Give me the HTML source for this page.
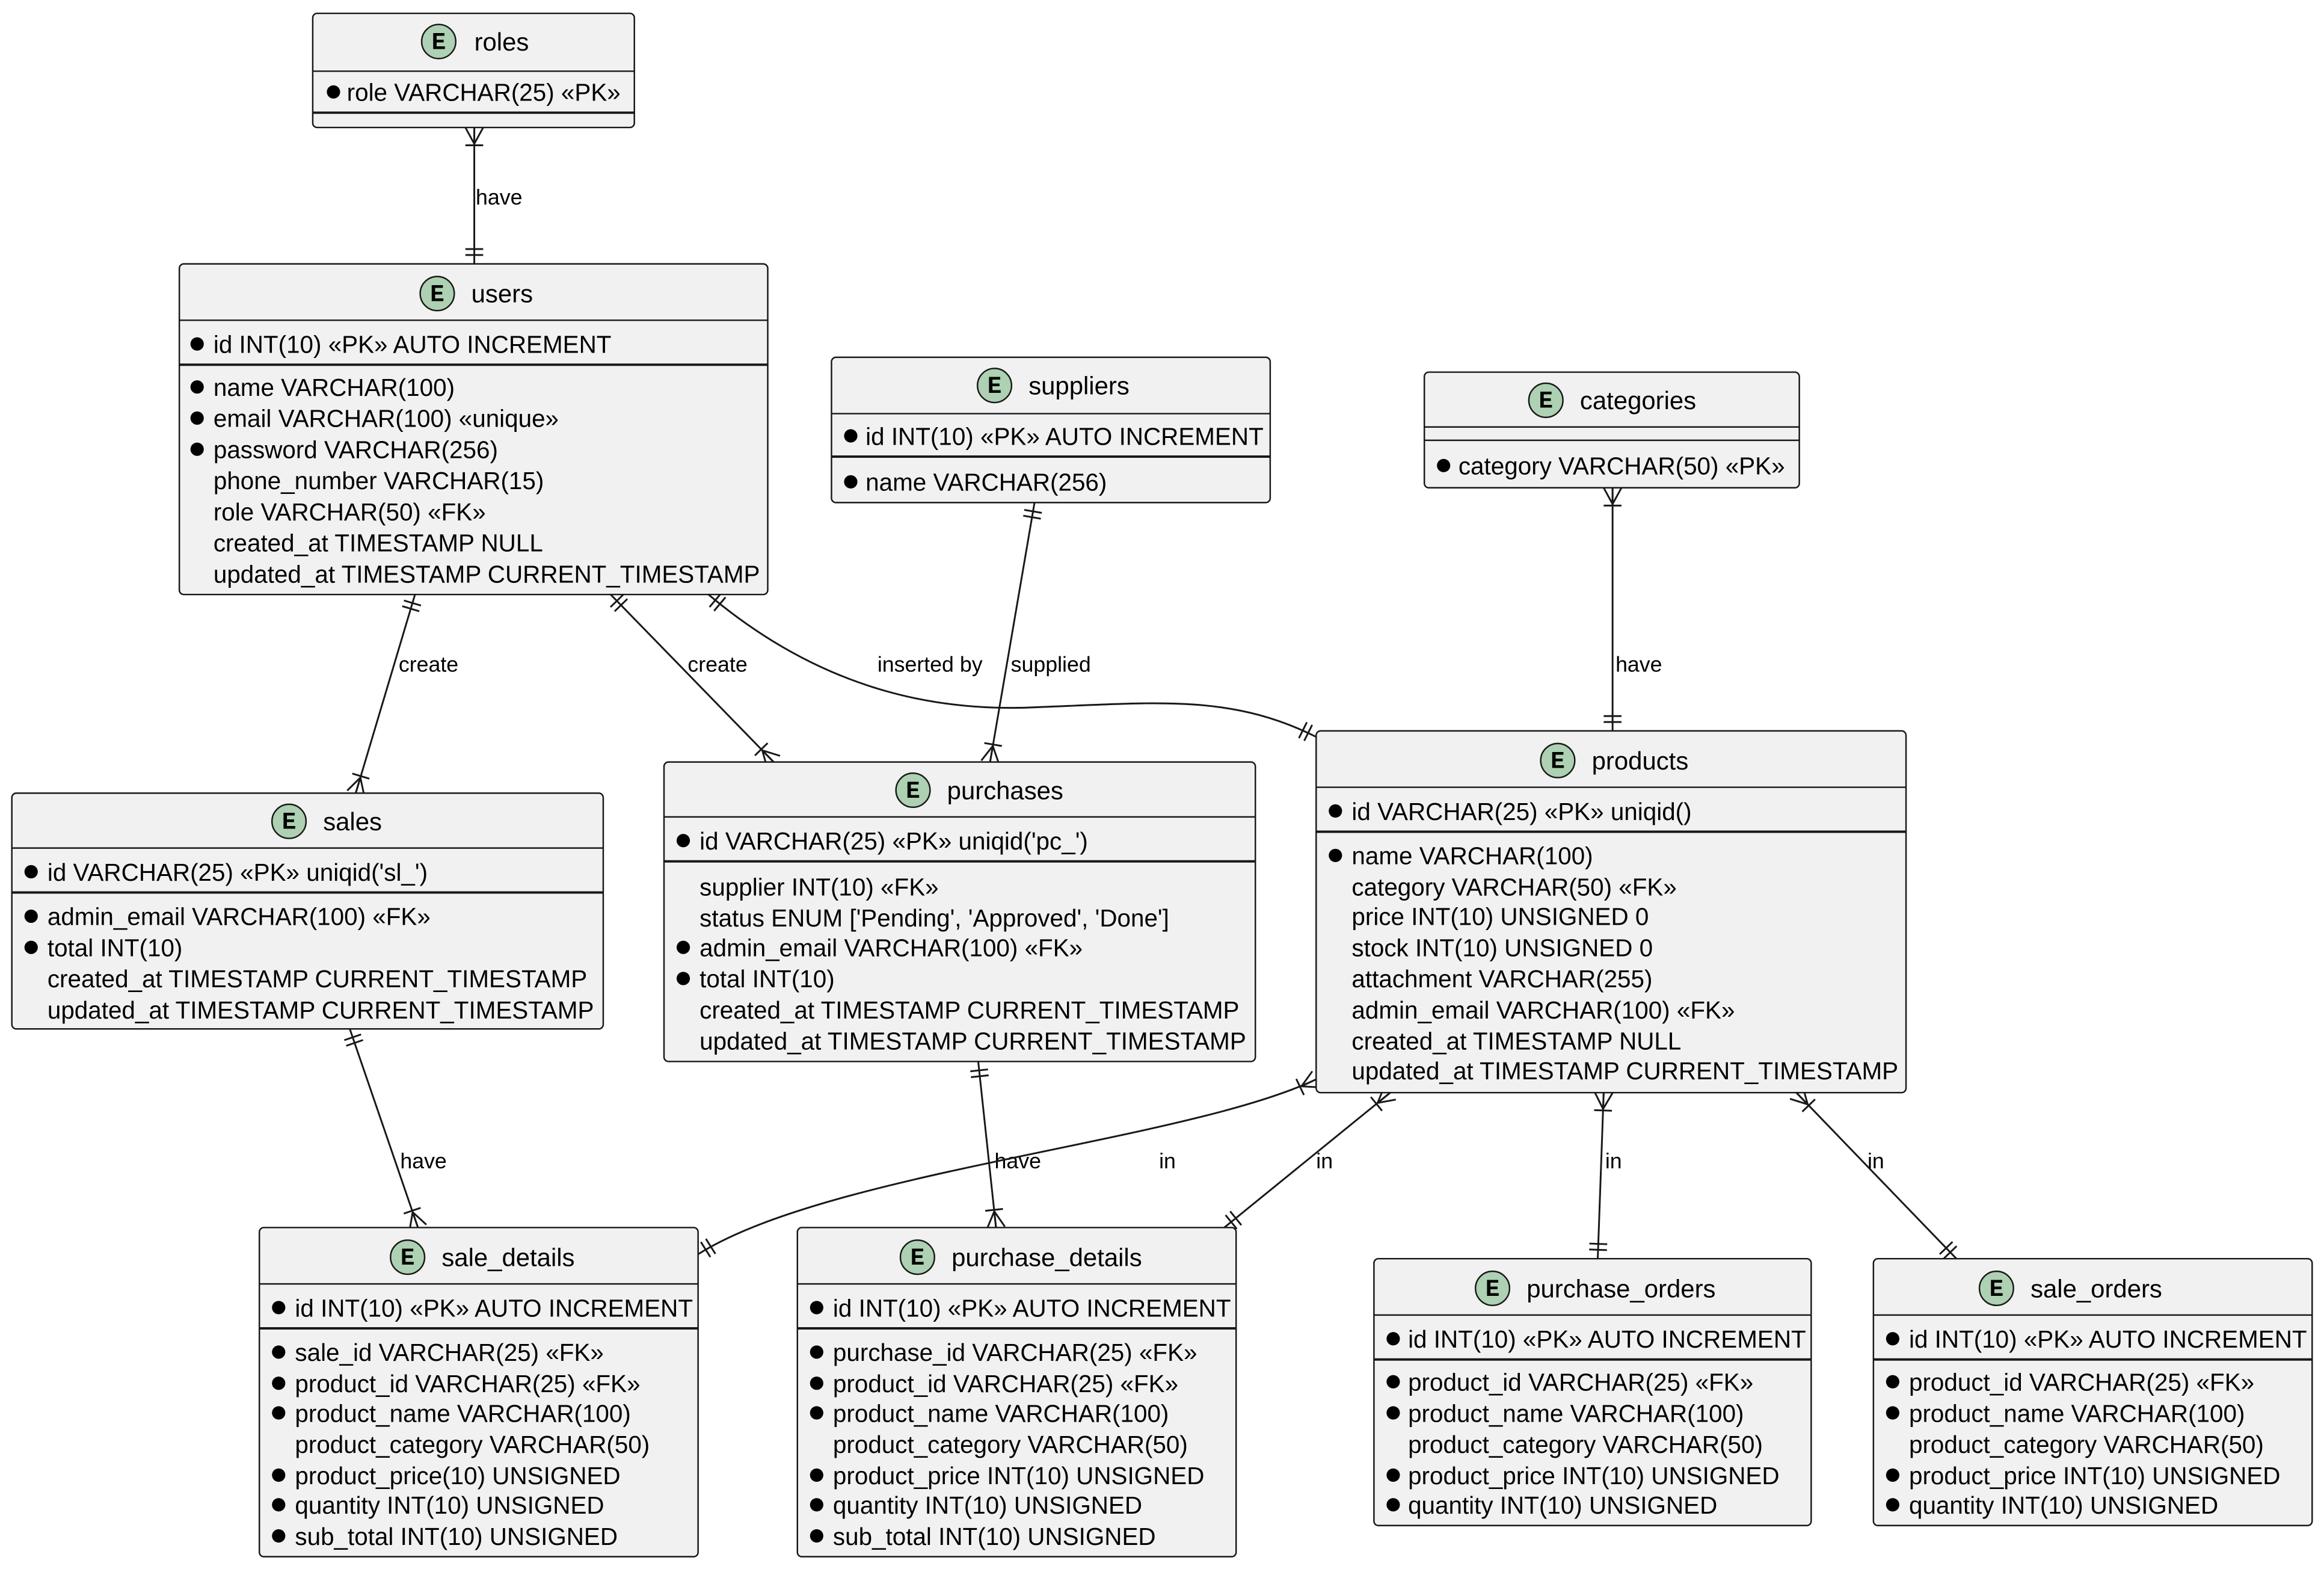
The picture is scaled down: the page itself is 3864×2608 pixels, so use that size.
<!DOCTYPE html>
<html><head><meta charset="utf-8"><style>
html,body{margin:0;padding:0;background:#fff}
svg{display:block}
text{font-family:"Liberation Sans",sans-serif;fill:#000}
.t{font-size:17px}
.r{font-size:16.4px}
.l{font-size:14.5px}
.E{font-family:"Liberation Mono",monospace;font-weight:bold;font-size:16px;text-anchor:middle}
rect{fill:#F1F1F1;stroke:#181818;stroke-width:1}
.c{fill:#ADD1B2;stroke:#181818;stroke-width:1}
.s{stroke:#181818;stroke-width:1}
.p{stroke:#181818;stroke-width:1.6}
.k{stroke:#181818;stroke-width:1.2;fill:none}
.b{fill:#000}
</style></head><body>
<svg width="3864" height="2608" viewBox="0 0 1568 1058.3" xmlns="http://www.w3.org/2000/svg">
<defs>
<marker id="many" markerUnits="userSpaceOnUse" markerWidth="26" markerHeight="18" refX="22" refY="9" orient="auto-start-reverse" viewBox="0 0 26 18">
<path d="M11,9 L22,3 M11,9 L22,9 M11,9 L22,15 M10,3 L10,15" stroke="#181818" stroke-width="1.2" fill="none"/>
</marker>
<marker id="one" markerUnits="userSpaceOnUse" markerWidth="26" markerHeight="18" refX="22" refY="9" orient="auto-start-reverse" viewBox="0 0 26 18">
<path d="M12,3 L12,15 M16,3 L16,15" stroke="#181818" stroke-width="1.2" fill="none"/>
</marker>
</defs>

<!-- connectors -->
<path class="k" d="M320,86 L320,178" marker-start="url(#many)" marker-end="url(#one)"/>
<text class="l" x="321" y="138">have</text>
<path class="k" d="M280,401 L240,535" marker-start="url(#one)" marker-end="url(#many)"/>
<text class="l" x="269" y="453">create</text>
<path class="k" d="M412,401 L522,514" marker-start="url(#one)" marker-end="url(#many)"/>
<text class="l" x="464" y="453">create</text>
<path class="k" d="M478,401 C560,470 640,480 700,477 C780,474 830,468 888,497" marker-start="url(#one)" marker-end="url(#one)"/>
<text class="l" x="592" y="453">inserted by</text>
<path class="k" d="M698,339 L668,514" marker-start="url(#one)" marker-end="url(#many)"/>
<text class="l" x="682" y="453">supplied</text>
<path class="k" d="M1088,329 L1088,493" marker-start="url(#many)" marker-end="url(#one)"/>
<text class="l" x="1090" y="453">have</text>
<path class="k" d="M236,694 L282,828" marker-start="url(#one)" marker-end="url(#many)"/>
<text class="l" x="270" y="788">have</text>
<path class="k" d="M660,716 L672,828" marker-start="url(#one)" marker-end="url(#many)"/>
<text class="l" x="671" y="788">have</text>
<path class="k" d="M888,728 C800,770 560,790 471,846" marker-start="url(#many)" marker-end="url(#one)"/>
<text class="l" x="782" y="788">in</text>
<path class="k" d="M938,737 L826,828" marker-start="url(#many)" marker-end="url(#one)"/>
<text class="l" x="888" y="788">in</text>
<path class="k" d="M1082,737 L1078,849" marker-start="url(#many)" marker-end="url(#one)"/>
<text class="l" x="1083" y="788">in</text>
<path class="k" d="M1212,737 L1320,849" marker-start="url(#many)" marker-end="url(#one)"/>
<text class="l" x="1260" y="788">in</text>

<!-- roles -->
<rect x="211" y="9" width="217" height="77" rx="3"/>
<circle class="c" cx="296" cy="28" r="11.5"/><text class="E" x="296" y="33">E</text>
<text class="t" x="320" y="34">roles</text>
<line class="s" x1="211" y1="48" x2="428" y2="48"/>
<circle class="b" cx="225" cy="62" r="4.5"/><text class="r" x="234" y="68">role VARCHAR(25) «PK»</text>
<line class="p" x1="211" y1="76" x2="428" y2="76"/>

<!-- users -->
<rect x="121" y="178" width="397" height="223" rx="3"/>
<circle class="c" cx="295" cy="198" r="11.5"/><text class="E" x="295" y="203">E</text>
<text class="t" x="318" y="204">users</text>
<line class="s" x1="121" y1="216" x2="518" y2="216"/>
<circle class="b" cx="133" cy="232" r="4.5"/><text class="r" x="144" y="238">id INT(10) «PK» AUTO INCREMENT</text>
<line class="p" x1="121" y1="246" x2="518" y2="246"/>
<circle class="b" cx="133" cy="261" r="4.5"/><text class="r" x="144" y="267">name VARCHAR(100)</text>
<circle class="b" cx="133" cy="282" r="4.5"/><text class="r" x="144" y="288">email VARCHAR(100) «unique»</text>
<circle class="b" cx="133" cy="303" r="4.5"/><text class="r" x="144" y="309">password VARCHAR(256)</text>
<text class="r" x="144" y="330">phone_number VARCHAR(15)</text>
<text class="r" x="144" y="351">role VARCHAR(50) «FK»</text>
<text class="r" x="144" y="372">created_at TIMESTAMP NULL</text>
<text class="r" x="144" y="393">updated_at TIMESTAMP CURRENT_TIMESTAMP</text>

<!-- suppliers -->
<rect x="561" y="241" width="296" height="98" rx="3"/>
<circle class="c" cx="671" cy="260" r="11.5"/><text class="E" x="671" y="265">E</text>
<text class="t" x="694" y="266">suppliers</text>
<line class="s" x1="561" y1="279" x2="857" y2="279"/>
<circle class="b" cx="574" cy="294" r="4.5"/><text class="r" x="584" y="300">id INT(10) «PK» AUTO INCREMENT</text>
<line class="p" x1="561" y1="308" x2="857" y2="308"/>
<circle class="b" cx="574" cy="325" r="4.5"/><text class="r" x="584" y="331">name VARCHAR(256)</text>

<!-- categories -->
<rect x="961" y="251" width="253" height="78" rx="3"/>
<circle class="c" cx="1043" cy="270" r="11.5"/><text class="E" x="1043" y="275">E</text>
<text class="t" x="1066" y="276">categories</text>
<line class="s" x1="961" y1="288" x2="1214" y2="288"/>
<line class="s" x1="961" y1="297" x2="1214" y2="297"/>
<circle class="b" cx="974" cy="314" r="4.5"/><text class="r" x="984" y="320">category VARCHAR(50) «PK»</text>

<!-- products -->
<rect x="888" y="493" width="398" height="244" rx="3"/>
<circle class="c" cx="1051" cy="513" r="11.5"/><text class="E" x="1051" y="518">E</text>
<text class="t" x="1074" y="519">products</text>
<line class="s" x1="888" y1="531" x2="1286" y2="531"/>
<circle class="b" cx="901" cy="547" r="4.5"/><text class="r" x="912" y="553">id VARCHAR(25) «PK» uniqid()</text>
<line class="p" x1="888" y1="561" x2="1286" y2="561"/>
<circle class="b" cx="901" cy="577" r="4.5"/><text class="r" x="912" y="583">name VARCHAR(100)</text>
<text class="r" x="912" y="604">category VARCHAR(50) «FK»</text>
<text class="r" x="912" y="624">price INT(10) UNSIGNED 0</text>
<text class="r" x="912" y="645">stock INT(10) UNSIGNED 0</text>
<text class="r" x="912" y="666">attachment VARCHAR(255)</text>
<text class="r" x="912" y="687">admin_email VARCHAR(100) «FK»</text>
<text class="r" x="912" y="708">created_at TIMESTAMP NULL</text>
<text class="r" x="912" y="728">updated_at TIMESTAMP CURRENT_TIMESTAMP</text>

<!-- sales -->
<rect x="8" y="535" width="399" height="159" rx="3"/>
<circle class="c" cx="195" cy="554" r="11.5"/><text class="E" x="195" y="559">E</text>
<text class="t" x="218" y="560">sales</text>
<line class="s" x1="8" y1="572" x2="407" y2="572"/>
<circle class="b" cx="21" cy="588" r="4.5"/><text class="r" x="32" y="594">id VARCHAR(25) «PK» uniqid('sl_')</text>
<line class="p" x1="8" y1="602" x2="407" y2="602"/>
<circle class="b" cx="21" cy="618" r="4.5"/><text class="r" x="32" y="624">admin_email VARCHAR(100) «FK»</text>
<circle class="b" cx="21" cy="639" r="4.5"/><text class="r" x="32" y="645">total INT(10)</text>
<text class="r" x="32" y="666">created_at TIMESTAMP CURRENT_TIMESTAMP</text>
<text class="r" x="32" y="687">updated_at TIMESTAMP CURRENT_TIMESTAMP</text>

<!-- purchases -->
<rect x="448" y="514" width="399" height="202" rx="3"/>
<circle class="c" cx="616" cy="533" r="11.5"/><text class="E" x="616" y="538">E</text>
<text class="t" x="639" y="539">purchases</text>
<line class="s" x1="448" y1="551" x2="847" y2="551"/>
<circle class="b" cx="461" cy="567" r="4.5"/><text class="r" x="472" y="573">id VARCHAR(25) «PK» uniqid('pc_')</text>
<line class="p" x1="448" y1="581" x2="847" y2="581"/>
<text class="r" x="472" y="604">supplier INT(10) «FK»</text>
<text class="r" x="472" y="625">status ENUM ['Pending', 'Approved', 'Done']</text>
<circle class="b" cx="461" cy="639" r="4.5"/><text class="r" x="472" y="645">admin_email VARCHAR(100) «FK»</text>
<circle class="b" cx="461" cy="660" r="4.5"/><text class="r" x="472" y="666">total INT(10)</text>
<text class="r" x="472" y="687">created_at TIMESTAMP CURRENT_TIMESTAMP</text>
<text class="r" x="472" y="708">updated_at TIMESTAMP CURRENT_TIMESTAMP</text>

<!-- sale_details -->
<rect x="175" y="828" width="296" height="222" rx="3"/>
<circle class="c" cx="275" cy="848" r="11.5"/><text class="E" x="275" y="853">E</text>
<text class="t" x="298" y="854">sale_details</text>
<line class="s" x1="175" y1="866" x2="471" y2="866"/>
<circle class="b" cx="188" cy="882" r="4.5"/><text class="r" x="199" y="888">id INT(10) «PK» AUTO INCREMENT</text>
<line class="p" x1="175" y1="896" x2="471" y2="896"/>
<circle class="b" cx="188" cy="912" r="4.5"/><text class="r" x="199" y="918">sale_id VARCHAR(25) «FK»</text>
<circle class="b" cx="188" cy="933" r="4.5"/><text class="r" x="199" y="939">product_id VARCHAR(25) «FK»</text>
<circle class="b" cx="188" cy="953" r="4.5"/><text class="r" x="199" y="959">product_name VARCHAR(100)</text>
<text class="r" x="199" y="980">product_category VARCHAR(50)</text>
<circle class="b" cx="188" cy="995" r="4.5"/><text class="r" x="199" y="1001">product_price(10) UNSIGNED</text>
<circle class="b" cx="188" cy="1015" r="4.5"/><text class="r" x="199" y="1021">quantity INT(10) UNSIGNED</text>
<circle class="b" cx="188" cy="1036" r="4.5"/><text class="r" x="199" y="1042">sub_total INT(10) UNSIGNED</text>

<!-- purchase_details -->
<rect x="538" y="828" width="296" height="222" rx="3"/>
<circle class="c" cx="619" cy="848" r="11.5"/><text class="E" x="619" y="853">E</text>
<text class="t" x="642" y="854">purchase_details</text>
<line class="s" x1="538" y1="866" x2="834" y2="866"/>
<circle class="b" cx="551" cy="882" r="4.5"/><text class="r" x="562" y="888">id INT(10) «PK» AUTO INCREMENT</text>
<line class="p" x1="538" y1="896" x2="834" y2="896"/>
<circle class="b" cx="551" cy="912" r="4.5"/><text class="r" x="562" y="918">purchase_id VARCHAR(25) «FK»</text>
<circle class="b" cx="551" cy="933" r="4.5"/><text class="r" x="562" y="939">product_id VARCHAR(25) «FK»</text>
<circle class="b" cx="551" cy="953" r="4.5"/><text class="r" x="562" y="959">product_name VARCHAR(100)</text>
<text class="r" x="562" y="980">product_category VARCHAR(50)</text>
<circle class="b" cx="551" cy="995" r="4.5"/><text class="r" x="562" y="1001">product_price INT(10) UNSIGNED</text>
<circle class="b" cx="551" cy="1015" r="4.5"/><text class="r" x="562" y="1021">quantity INT(10) UNSIGNED</text>
<circle class="b" cx="551" cy="1036" r="4.5"/><text class="r" x="562" y="1042">sub_total INT(10) UNSIGNED</text>

<!-- purchase_orders -->
<rect x="927" y="849" width="295" height="180" rx="3"/>
<circle class="c" cx="1007" cy="869" r="11.5"/><text class="E" x="1007" y="874">E</text>
<text class="t" x="1030" y="875">purchase_orders</text>
<line class="s" x1="927" y1="887" x2="1222" y2="887"/>
<circle class="b" cx="940" cy="903" r="4.5"/><text class="r" x="950" y="909">id INT(10) «PK» AUTO INCREMENT</text>
<line class="p" x1="927" y1="917" x2="1222" y2="917"/>
<circle class="b" cx="940" cy="932" r="4.5"/><text class="r" x="950" y="938">product_id VARCHAR(25) «FK»</text>
<circle class="b" cx="940" cy="953" r="4.5"/><text class="r" x="950" y="959">product_name VARCHAR(100)</text>
<text class="r" x="950" y="980">product_category VARCHAR(50)</text>
<circle class="b" cx="940" cy="995" r="4.5"/><text class="r" x="950" y="1001">product_price INT(10) UNSIGNED</text>
<circle class="b" cx="940" cy="1015" r="4.5"/><text class="r" x="950" y="1021">quantity INT(10) UNSIGNED</text>

<!-- sale_orders -->
<rect x="1264" y="849" width="296" height="180" rx="3"/>
<circle class="c" cx="1347" cy="869" r="11.5"/><text class="E" x="1347" y="874">E</text>
<text class="t" x="1370" y="875">sale_orders</text>
<line class="s" x1="1264" y1="887" x2="1560" y2="887"/>
<circle class="b" cx="1277" cy="903" r="4.5"/><text class="r" x="1288" y="909">id INT(10) «PK» AUTO INCREMENT</text>
<line class="p" x1="1264" y1="917" x2="1560" y2="917"/>
<circle class="b" cx="1277" cy="932" r="4.5"/><text class="r" x="1288" y="938">product_id VARCHAR(25) «FK»</text>
<circle class="b" cx="1277" cy="953" r="4.5"/><text class="r" x="1288" y="959">product_name VARCHAR(100)</text>
<text class="r" x="1288" y="980">product_category VARCHAR(50)</text>
<circle class="b" cx="1277" cy="995" r="4.5"/><text class="r" x="1288" y="1001">product_price INT(10) UNSIGNED</text>
<circle class="b" cx="1277" cy="1015" r="4.5"/><text class="r" x="1288" y="1021">quantity INT(10) UNSIGNED</text>
</svg>
</body></html>
